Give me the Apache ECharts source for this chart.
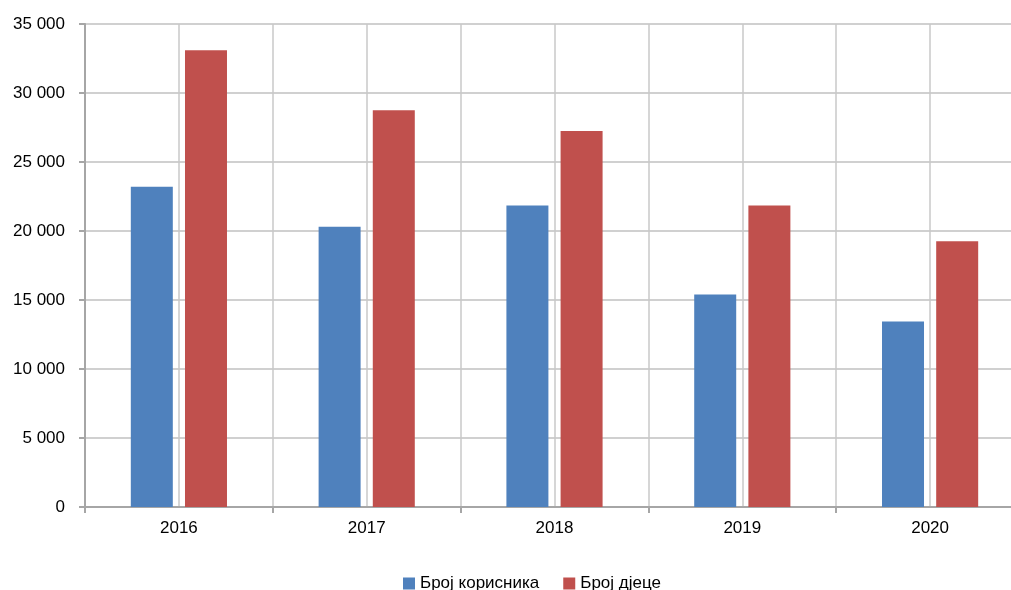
<!DOCTYPE html>
<html><head><meta charset="utf-8">
<script src="https://cdn.jsdelivr.net/npm/echarts@6/dist/echarts.min.js"></script>
<style>html,body{margin:0;padding:0;background:#fff;overflow:hidden}#c{width:1025px;height:590px}</style>
</head><body><div id="c"></div>
<script>
const categories = ['2016', '2017', '2018', '2019', '2020'];
const seriesNames = ['Број корисника', 'Број дјеце'];
const users = [23200, 20300, 21850, 15400, 13450];
const children = [33100, 28750, 27250, 21850, 19250];
const yTicks = [0, 5000, 10000, 15000, 20000, 25000, 30000, 35000];

const fontFamily = '"Liberation Sans", Arial, sans-serif';
const chart = echarts.init(document.getElementById('c'), null, {renderer: 'canvas'});
chart.setOption({
  animation: false,
  textStyle: {fontFamily},
  grid: {left: 85, top: 24, bottom: 83, right: 1, containLabel: false},
  legend: {
    top: 570, left: 398, itemWidth: 12, itemHeight: 12, itemGap: 24,
    icon: 'rect',
    textStyle: {fontSize: 17, color: '#000', fontFamily},
    data: seriesNames
  },
  xAxis: [{
    type: 'category', data: categories,
    axisLine: {lineStyle: {color: '#a6a6a6', width: 2}},
    axisTick: {show: true, length: 6, lineStyle: {color: '#a6a6a6', width: 2}},
    axisLabel: {color: '#000', fontSize: 17, margin: 13, fontFamily},
    splitLine: {show: false}
  }, {
    type: 'value', min: 0, max: 10, interval: 1, position: 'bottom',
    axisLine: {show: false}, axisTick: {show: false}, axisLabel: {show: false},
    splitLine: {show: true, lineStyle: {color: '#c8c8c8', width: 1.5}}
  }],
  yAxis: {
    type: 'value', min: yTicks[0], max: yTicks[yTicks.length - 1], interval: 5000,
    axisLine: {show: true, lineStyle: {color: '#a6a6a6', width: 2}},
    axisTick: {show: true, length: 6, lineStyle: {color: '#a6a6a6', width: 2}},
    axisLabel: {color: '#000', fontSize: 17, margin: 20, fontFamily,
      formatter: v => String(v).replace(/\B(?=(\d{3})+(?!\d))/g, ' ')},
    splitLine: {show: true, lineStyle: {color: '#c0c0c0', width: 1.5}}
  },
  series: [{
    name: seriesNames[0], type: 'bar', data: users, xAxisIndex: 0,
    barWidth: 42, barGap: '29%',
    itemStyle: {color: '#4F81BD'}
  }, {
    name: seriesNames[1], type: 'bar', data: children, xAxisIndex: 0,
    barWidth: 42, barGap: '29%',
    itemStyle: {color: '#C0504D'}
  }]
});
</script></body></html>
